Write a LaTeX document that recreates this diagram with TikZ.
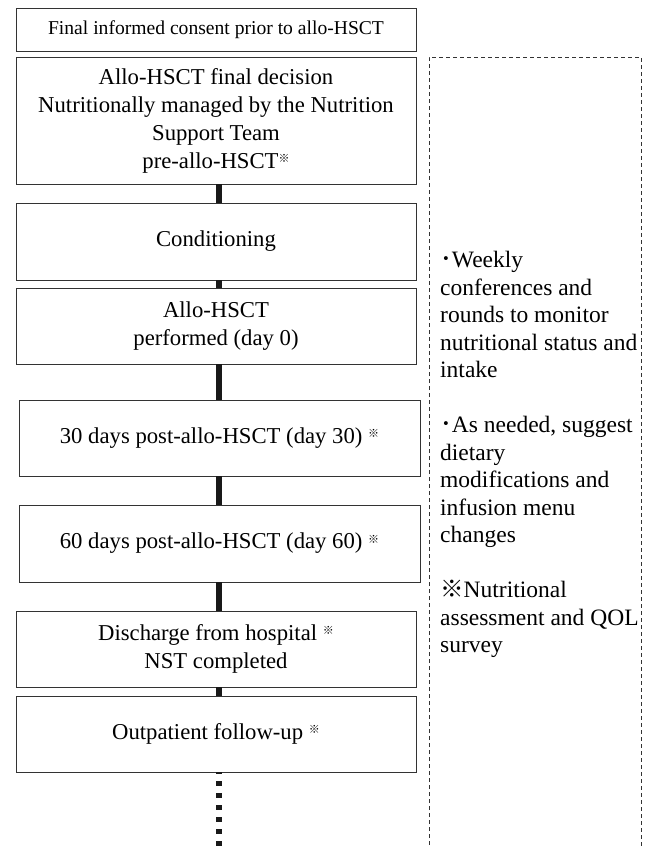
\documentclass[tikz,border=0pt]{standalone}
\usepackage{fontspec}
\setmainfont{Liberation Serif}
\newfontfamily\cjk{Noto Sans CJK JP}
\usetikzlibrary{positioning}
\newcommand{\refmark}{\raisebox{0.55ex}{\cjk\fontsize{11bp}{11bp}\selectfont ※}}
\tikzset{
    stage/.style={draw=black!80, line width=0.9bp, minimum width=400bp, inner sep=0pt,
        align=center, font=\fontsize{22.7bp}{28bp}\selectfont},
    stagelink/.style={line width=5.5bp, black!90},
    notebox/.style={draw=black!80, line width=0.8bp, dash pattern=on 4bp off 3bp},
    notetext/.style={inner sep=0pt, align=left, font=\fontsize{23.5bp}{27.5bp}\selectfont},
}

\begin{document}
\begin{tikzpicture}[x=1bp,y=-1bp]
    \useasboundingbox (0,0) rectangle (647,847);

    % Axis of the connectors.
    \coordinate (axis) at (219,0);
    \coordinate (tail) at (219,847);

    % Draw the stages.
    \node[stage, minimum height=43bp, font=\fontsize{19.6bp}{23bp}\selectfont] (consent) at (216,29.5)
        {Final informed consent prior to allo-HSCT};
    \node[stage, minimum height=127bp] (decision) at (216,120.5)
        {Allo-HSCT final decision\\Nutritionally managed by the Nutrition\\Support Team\\pre-allo-HSCT\refmark};
    \node[stage, minimum height=77bp] (cond) at (216,241.5) {Conditioning};
    \node[stage, minimum height=76bp] (hsct) at (216,326) {Allo-HSCT\\performed (day 0)};
    \node[stage, minimum height=76bp, minimum width=401bp] (day30) at (219.5,438)
        {30 days post-allo-HSCT (day 30) \refmark};
    \node[stage, minimum height=77bp, minimum width=401bp] (day60) at (219.5,543.5)
        {60 days post-allo-HSCT (day 60) \refmark};
    \node[stage, minimum height=76bp] (discharge) at (216,649)
        {Discharge from hospital \refmark\\NST completed};
    \node[stage, minimum height=76bp] (followup) at (216,734) {Outpatient follow-up \refmark};

    % Connect the stages.
    \foreach \a/\b in {decision/cond, cond/hsct, hsct/day30, day30/day60, day60/discharge, discharge/followup}
        \draw[stagelink] (\a.south -| axis) -- (\b.north -| axis);
    \draw[stagelink, dash pattern=on 5bp off 7bp, dash phase=3bp] (followup.south -| axis) -- (tail);

    % Dashed frame for the NST activities.
    \draw[notebox] (429,852) |- (641,57) -- (641,852);
    \node[notetext, anchor=north west] (notes) at (440,251)
        {{\cjk ･}Weekly\\conferences and\\rounds to monitor\\nutritional status and\\intake\\[27.5bp]
         {\cjk ･}As needed, suggest\\dietary\\modifications and\\infusion menu\\changes\\[27.5bp]
         {\cjk ※}Nutritional\\assessment and QOL\\survey};
\end{tikzpicture}
\end{document}
